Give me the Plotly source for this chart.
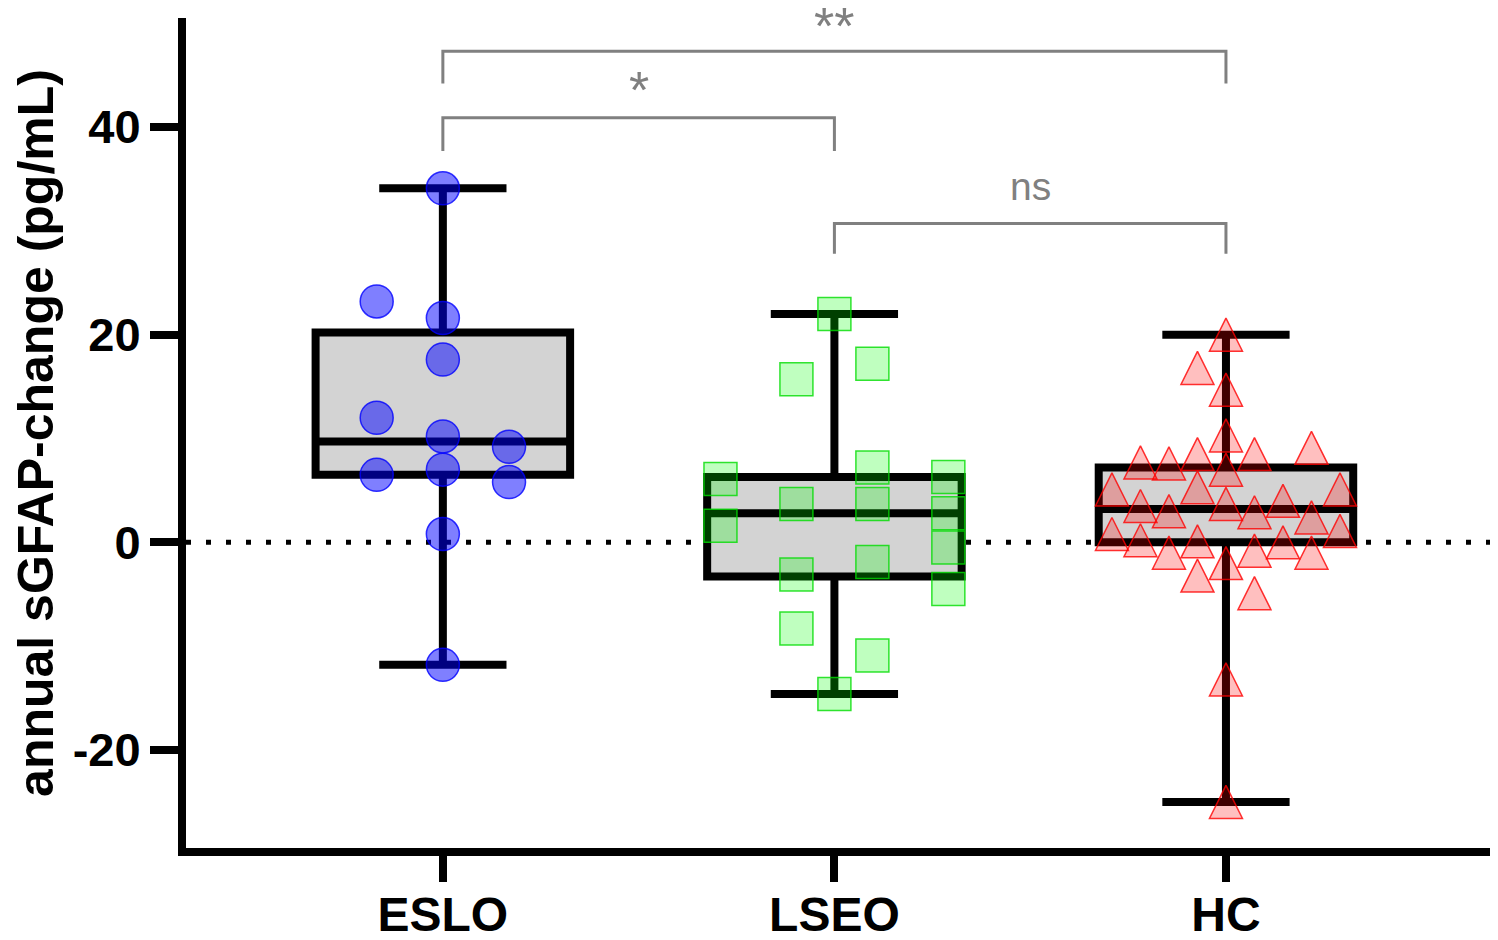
import plotly.graph_objects as go

# groups / tick labels
groups = ["ESLO", "LSEO", "HC"]

# annual sGFAP change per patient (pg/mL)
eslo_values = [34.1, 23.2, 21.6, 17.6, 12.0, 10.2, 9.2, 6.5, 7.0, 5.8, 0.8, -11.8]
eslo_slots = [0, -1, 0, 0, -1, 0, 1, -1, 0, 1, 0, 0]

lseo_values = [22.0, 15.7, 17.2, 7.2, 6.1, 6.3, 3.7, 3.7, 1.6, 2.8, -0.5, -1.9, -3.1, -4.5, -8.3, -10.9, -14.6]
lseo_slots = [0, -1, 1, 1, -3, 3, -1, 1, -3, 3, 3, 1, -1, 3, -1, 1, 0]

hc_values = [20.0, 16.8, 14.7, 10.3, 9.1, 7.7, 7.6, 8.5, 8.5, 7.0, 5.1, 5.3, 5.1, 3.5, 3.0, 3.7,
             2.9, 4.0, 2.4, 0.8, 0.2, 1.1, -1.0, 0.1, -0.8, 0.0, -1.0, -3.2, -2.0, -4.9, -13.2, -25.0]
hc_slots = [0, -1, 0, 0, 3, -3, -2, -1, 1, 0, -4, -1, 4, -3, -2, 0,
            1, 2, 3, -4, -3, 4, -2, -1, 1, 2, 3, -1, 0, 1, 0, 0]

# box summaries (min, q1, median, q3, max)
box_min = [-11.8, -14.6, -25.0]
box_q1 = [6.5, -3.3, 0.0]
box_median = [9.7, 2.8, 3.2]
box_q3 = [20.2, 6.3, 7.2]
box_max = [34.1, 22.0, 20.0]

# significance brackets: (left group, right group, label)
comparisons = [(0, 2, "**"), (0, 1, "*"), (1, 2, "ns")]
bracket_top = [47.3, 40.9, 30.7]
bracket_bottom = [44.2, 37.7, 27.8]

GREY = "#808080"
FONT = "Liberation Sans, Arial, sans-serif"

fig = go.Figure()

for i in range(3):
    fig.add_trace(go.Box(
        x=[i], q1=[box_q1[i]], median=[box_median[i]], q3=[box_q3[i]],
        lowerfence=[box_min[i]], upperfence=[box_max[i]],
        width=0.65, whiskerwidth=0.5, fillcolor="#d3d3d3",
        line=dict(color="black", width=8), hoverinfo="skip", showlegend=False,
    ))

point_sets = [
    (eslo_values, eslo_slots, 0.169, dict(symbol="circle", size=33, color="rgba(0,0,255,0.5)",
                                          line=dict(color="rgba(0,0,255,0.8)", width=1.5))),
    (lseo_values, lseo_slots, 0.097, dict(symbol="square", size=33, color="rgba(0,255,0,0.25)",
                                          line=dict(color="rgba(0,220,0,0.8)", width=1.5))),
    # upward triangle as tall as it is wide, centred on the value
    (hc_values, hc_slots, 0.0728, dict(symbol="arrow-down", angle=180, standoff=16.5, size=33,
                                       color="rgba(255,0,0,0.25)",
                                       line=dict(color="rgba(255,0,0,0.8)", width=1.5))),
]
for i, (vals, slots, step, marker) in enumerate(point_sets):
    fig.add_trace(go.Scatter(
        x=[i + s * step for s in slots], y=vals, mode="markers",
        marker=marker, hoverinfo="skip", showlegend=False, cliponaxis=False,
    ))

# dotted zero line
fig.add_shape(type="line", xref="paper", x0=0, x1=1, yref="y", y0=0, y1=0,
              line=dict(color="black", width=5, dash="5px,15px"), layer="below")

label_shift = {"**": -6, "*": -3, "ns": 14}
for (a, b, label), top, bottom in zip(comparisons, bracket_top, bracket_bottom):
    fig.add_shape(type="path", xref="x", yref="y",
                  path=f"M {a},{bottom} V {top} H {b} V {bottom}",
                  line=dict(color=GREY, width=3))
    fig.add_annotation(x=(a + b) / 2, y=top, xref="x", yref="y", text=label, showarrow=False,
                       yanchor="bottom", yshift=label_shift[label],
                       font=dict(family=FONT, size=52 if "*" in label else 39, color=GREY))

# the page has an 8px body margin, so the figure is 8px smaller than the window
fig.update_layout(
    width=1490, height=932,
    margin=dict(l=178, r=5, t=10, b=92),
    plot_bgcolor="white", paper_bgcolor="white",
    font=dict(family=FONT, color="black"),
)
fig.update_xaxes(
    range=[-0.656, 2.682], tickvals=[0, 1, 2], ticktext=[f"<b>{g}</b>" for g in groups],
    showgrid=False, zeroline=False, showline=True, linecolor="black", linewidth=8,
    ticks="outside", ticklen=26, tickwidth=8, tickcolor="black", ticklabelstandoff=-9,
    tickfont=dict(size=48, family=FONT), automargin=False,
)
fig.update_yaxes(
    range=[-29.44, 50.5], tickvals=[-20, 0, 20, 40], ticktext=["<b>-20</b>", "<b>0</b>", "<b>20</b>", "<b>40</b>"],
    showgrid=False, zeroline=False, showline=True, linecolor="black", linewidth=8,
    ticks="outside", ticklen=28, tickwidth=8, tickcolor="black",
    tickfont=dict(size=47, family=FONT), automargin=False,
    title=dict(text="<b>annual sGFAP-change (pg/mL)</b>", font=dict(size=50, family=FONT), standoff=26),
)

fig.write_html("out.html")
